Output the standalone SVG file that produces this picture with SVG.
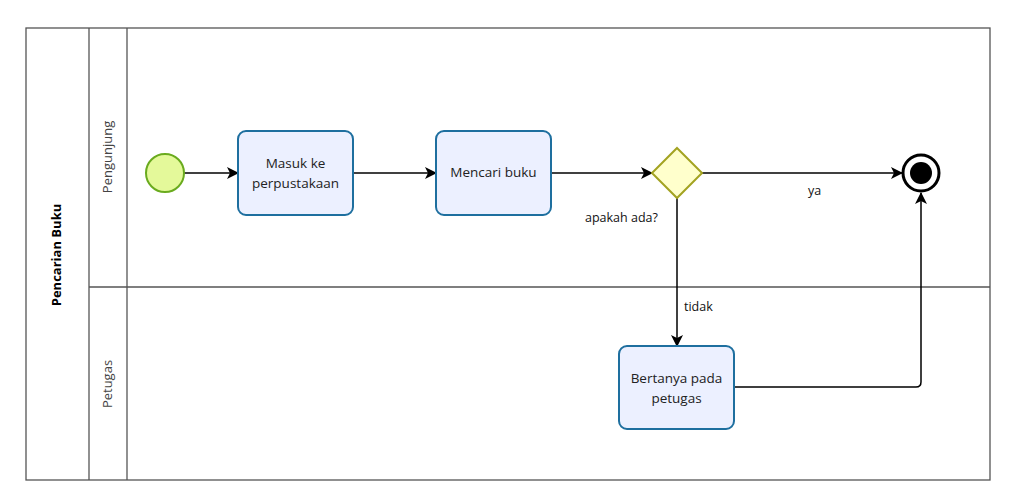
<svg xmlns="http://www.w3.org/2000/svg" width="1015" height="487" viewBox="0 0 1015 487">
<defs>
<style>
.frame{fill:none;stroke:#555;stroke-width:1.3}
.task{fill:#ECF0FF;stroke:#1E6F9F;stroke-width:2}
.tt{font-family:"Open Sans","Noto Sans",sans-serif;font-size:13.5px;fill:#222;text-anchor:middle}
.lbl{font-family:"Open Sans","Noto Sans",sans-serif;font-size:12.5px;fill:#111}
.conn{fill:none;stroke:#000;stroke-width:1.5}
</style>
<marker id="arr" viewBox="0 0 12 12" refX="11" refY="6" markerWidth="12" markerHeight="12" markerUnits="userSpaceOnUse" orient="auto">
<path d="M0,0 L12,6 L0,12 L3,6 Z" fill="#000"/>
</marker>
</defs>
<rect width="1015" height="487" fill="#fff"/>
<g id="pool">
<rect class="frame" x="26" y="28" width="964" height="452"/>
<line class="frame" x1="89" y1="28" x2="89" y2="480"/>
<line class="frame" x1="127" y1="28" x2="127" y2="480"/>
<line class="frame" x1="89" y1="287" x2="990" y2="287"/>
<text transform="translate(61,255) rotate(-90)" font-family="'Open Sans','Noto Sans',sans-serif" font-size="13" font-weight="bold" text-anchor="middle" fill="#000">Pencarian Buku</text>
</g>
<g id="lane-pengunjung">
<text transform="translate(112,157) rotate(-90)" font-family="'Open Sans','Noto Sans',sans-serif" font-size="13" text-anchor="middle" fill="#444">Pengunjung</text>
</g>
<g id="lane-petugas">
<text transform="translate(112,384) rotate(-90)" font-family="'Open Sans','Noto Sans',sans-serif" font-size="13" text-anchor="middle" fill="#444">Petugas</text>
</g>
<g id="connectors">
<line class="conn" x1="184" y1="173" x2="238" y2="173" marker-end="url(#arr)"/>
<line class="conn" x1="353" y1="173" x2="436" y2="173" marker-end="url(#arr)"/>
<line class="conn" x1="551" y1="173" x2="652" y2="173" marker-end="url(#arr)"/>
<line class="conn" x1="702" y1="173" x2="902" y2="173" marker-end="url(#arr)"/>
<line class="conn" x1="677" y1="198" x2="677" y2="346" marker-end="url(#arr)"/>
<path class="conn" d="M734,387 L916,387 Q921,387 921,382 L921,193" marker-end="url(#arr)"/>
<text class="lbl" x="585" y="222">apakah ada?</text>
<text class="lbl" x="808" y="195">ya</text>
<text class="lbl" x="684" y="311">tidak</text>
</g>
<g id="start">
<circle cx="165" cy="173" r="19" fill="#E4F99A" stroke="#6AAB1E" stroke-width="2"/>
</g>
<g id="task-masuk">
<rect class="task" x="238" y="131" width="115" height="84" rx="8"/>
<text class="tt" x="295.5" y="168">Masuk ke</text>
<text class="tt" x="295.5" y="188">perpustakaan</text>
</g>
<g id="task-mencari">
<rect class="task" x="436" y="131" width="115" height="84" rx="8"/>
<text class="tt" x="493.5" y="177">Mencari buku</text>
</g>
<g id="gateway">
<polygon points="677,148 702,173 677,198 652,173" fill="#FFFFCC" stroke="#A3A321" stroke-width="2"/>
</g>
<g id="end">
<circle cx="921" cy="173" r="18" fill="#fff" stroke="#000" stroke-width="3"/>
<circle cx="921" cy="173" r="11" fill="#000"/>
</g>
<g id="task-bertanya">
<rect class="task" x="619" y="346" width="115" height="83" rx="8"/>
<text class="tt" x="676.5" y="383">Bertanya pada</text>
<text class="tt" x="676.5" y="403">petugas</text>
</g>
</svg>
